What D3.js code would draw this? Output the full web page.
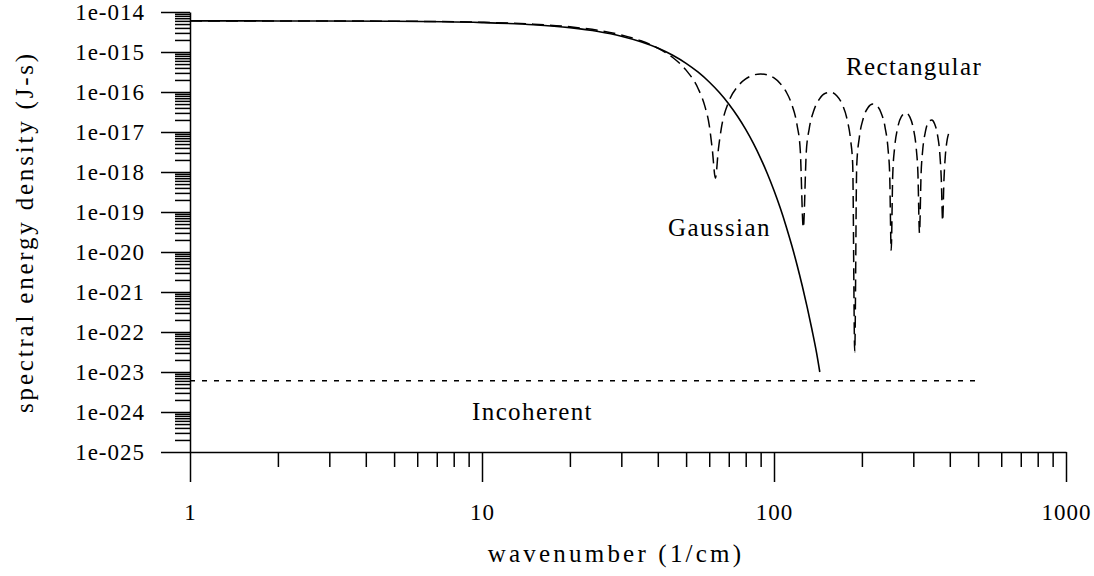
<!DOCTYPE html>
<html>
<head>
<meta charset="utf-8">
<script src="https://cdn.jsdelivr.net/npm/d3@7"></script>
<style>
  html, body { margin: 0; padding: 0; background: #fff; }
  svg { display: block; }
  text { font-family: "Liberation Serif", "Times New Roman", serif; fill: #000; }
</style>
</head>
<body>
<svg id="chart" width="1094" height="576"></svg>
<script>
// Axis ticks and labels
const wavenumberTicks = [1, 10, 100, 1000];
const wavenumberTickLabels = ["1", "10", "100", "1000"];
const densityTicks = [1e-14, 1e-15, 1e-16, 1e-17, 1e-18, 1e-19, 1e-20, 1e-21, 1e-22, 1e-23, 1e-24, 1e-25];
const densityTickLabels = ["1e-014", "1e-015", "1e-016", "1e-017", "1e-018", "1e-019",
                           "1e-020", "1e-021", "1e-022", "1e-023", "1e-024", "1e-025"];

// Gaussian bunch: wavenumber (1/cm) and spectral energy density (J-s)
const gaussWavenumber = [1, 2, 5, 10, 15, 20, 25, 30, 35, 40, 45, 50, 55, 60, 65, 70, 75, 80,
                         85, 90, 95, 100, 105, 110, 115, 120, 125, 130, 135, 140, 143.5];
const gaussDensity = [5.99e-15, 5.98e-15, 5.86e-15, 5.44e-15, 4.82e-15, 4.06e-15, 3.26e-15, 2.49e-15,
                      1.81e-15, 1.26e-15, 8.30e-16, 5.22e-16, 3.13e-16, 1.78e-16, 9.68e-17, 5.01e-17,
                      2.47e-17, 1.16e-17, 5.17e-18, 2.20e-18, 8.92e-19, 3.44e-19, 1.27e-19, 4.43e-20,
                      1.47e-20, 4.68e-21, 1.41e-21, 4.07e-22, 1.12e-22, 2.92e-23, 1.0e-23];

// Rectangular bunch
const rectWavenumber = [1, 2, 5, 10, 15, 20, 25, 30, 35, 40, 45, 50, 55, 58, 60, 61.5, 63, 64.5, 66,
                        70, 75, 80, 85, 90, 95, 100, 105, 110, 115, 120, 123, 126, 129, 132,
                        137, 143, 150, 157, 164, 171, 178, 183, 186, 189, 192, 196,
                        202, 210, 218, 225, 232, 240, 246, 249, 252, 255, 259,
                        265, 273, 283, 292, 300, 307, 311, 315, 319, 323,
                        330, 340, 347, 355, 363, 370, 374, 378, 382, 386, 392, 396];
const rectDensity = [6.0e-15, 5.98e-15, 5.88e-15, 5.52e-15, 4.96e-15, 4.26e-15, 3.47e-15, 2.67e-15,
                     1.91e-15, 1.25e-15, 7.28e-16, 3.52e-16, 1.21e-16, 4.36e-17, 1.49e-17, 3.56e-18,
                     7.0e-19, 3.7e-18, 1.23e-17,
                     5.76e-17, 1.36e-16, 2.12e-16, 2.65e-16, 2.83e-16, 2.67e-16, 2.24e-16, 1.64e-16,
                     1.02e-16, 4.94e-17, 1.46e-17, 3.54e-18, 4.0e-20, 3.2e-18, 1.2e-17,
                     3.5e-17, 6.63e-17, 9.29e-17, 9.78e-17, 8.06e-17, 5.04e-17, 2.06e-17, 6.27e-18,
                     1.55e-18, 3.2e-23, 1.45e-18, 7.35e-18,
                     2.15e-17, 4.1e-17, 5.0e-17, 4.53e-17, 3.17e-17, 1.33e-17, 3.47e-18, 8.6e-19,
                     1.1e-20, 8.2e-19, 4.2e-18,
                     1.25e-17, 2.43e-17, 3.01e-17, 2.35e-17, 1.24e-17, 3.89e-18, 9.8e-19, 3.0e-20,
                     9.3e-19, 3.49e-18,
                     1.02e-17, 1.88e-17, 2.0e-17, 1.59e-17, 8.47e-18, 2.67e-18, 6.8e-19, 6.0e-20,
                     6.5e-19, 2.44e-18, 6.5e-18, 9.0e-18];

// Incoherent level
const incohWavenumber = [1, 500];
const incohDensity = [6.0e-24, 6.0e-24];

const svg = d3.select("#chart");

const x = d3.scaleLog().domain([1, 1000]).range([190, 1066]);
const y = d3.scaleLog().domain([1e-25, 1e-14]).range([452, 12]);

// minor ticks at 2..9 of every decade
const minorX = [];
for (let e = 0; e < 3; e++) for (let m = 2; m <= 9; m++) minorX.push(m * Math.pow(10, e));
const minorY = [];
for (let e = -25; e < -14; e++) for (let m = 2; m <= 9; m++) minorY.push(+(m + "e" + e));

function styleAxis(g) {
  g.selectAll("path, line").attr("stroke", "#000").attr("stroke-width", 1.5);
}

// y axis
const yMinor = svg.append("g").attr("transform", "translate(190,0)")
  .call(d3.axisLeft(y).tickValues(minorY).tickSize(15).tickSizeOuter(0).tickFormat(""));
yMinor.select(".domain").remove();
styleAxis(yMinor);

const yAxis = svg.append("g").attr("transform", "translate(190,0)")
  .call(d3.axisLeft(y).tickValues(densityTicks).tickSize(29).tickSizeOuter(0).tickPadding(16)
    .tickFormat((d, i) => densityTickLabels[i]));
styleAxis(yAxis);
yAxis.selectAll("text")
  .attr("font-family", "Liberation Serif, Times New Roman, serif")
  .attr("font-size", 23)
  .style("letter-spacing", "1px");

// x axis
const xMinor = svg.append("g").attr("transform", "translate(0,452)")
  .call(d3.axisBottom(x).tickValues(minorX.filter(v => v > 1)).tickSize(15).tickSizeOuter(0).tickFormat(""));
xMinor.select(".domain").remove();
styleAxis(xMinor);

const xAxis = svg.append("g").attr("transform", "translate(0,452)")
  .call(d3.axisBottom(x).tickValues(wavenumberTicks).tickSize(30).tickSizeOuter(0).tickPadding(22)
    .tickFormat((d, i) => wavenumberTickLabels[i]));
styleAxis(xAxis);
xAxis.selectAll("text")
  .attr("font-family", "Liberation Serif, Times New Roman, serif")
  .attr("font-size", 23)
  .style("letter-spacing", "1px");

// curves
const line = d3.line()
  .x(d => x(d[0]))
  .y(d => y(d[1]))
  .curve(d3.curveMonotoneX);

const incoh = d3.zip(incohWavenumber, incohDensity);
const gauss = d3.zip(gaussWavenumber, gaussDensity);
const rect = d3.zip(rectWavenumber, rectDensity);

svg.append("path").attr("d", line(incoh))
  .attr("fill", "none").attr("stroke", "#000").attr("stroke-width", 1.5)
  .attr("stroke-dasharray", "5,7");

svg.append("path").attr("d", line(gauss))
  .attr("fill", "none").attr("stroke", "#000").attr("stroke-width", 1.6);

svg.append("path").attr("d", line(rect))
  .attr("fill", "none").attr("stroke", "#000").attr("stroke-width", 1.5)
  .attr("stroke-dasharray", "12,6");

// curve labels
const notes = [
  { text: "Rectangular", x: 846, y: 75 },
  { text: "Gaussian", x: 668, y: 236 },
  { text: "Incoherent", x: 472, y: 420 }
];
svg.selectAll("text.note").data(notes).join("text")
  .attr("class", "note")
  .attr("x", d => d.x).attr("y", d => d.y)
  .attr("font-size", 25)
  .style("letter-spacing", "1.4px")
  .text(d => d.text);

// axis titles
svg.append("text")
  .attr("x", 616).attr("y", 562)
  .attr("text-anchor", "middle")
  .attr("font-size", 25)
  .style("letter-spacing", "3.2px")
  .text("wavenumber (1/cm)");

svg.append("text")
  .attr("transform", "translate(33,232) rotate(-90)")
  .attr("text-anchor", "middle")
  .attr("font-size", 25)
  .style("letter-spacing", "2.8px")
  .text("spectral energy density (J-s)");
</script>
</body>
</html>
